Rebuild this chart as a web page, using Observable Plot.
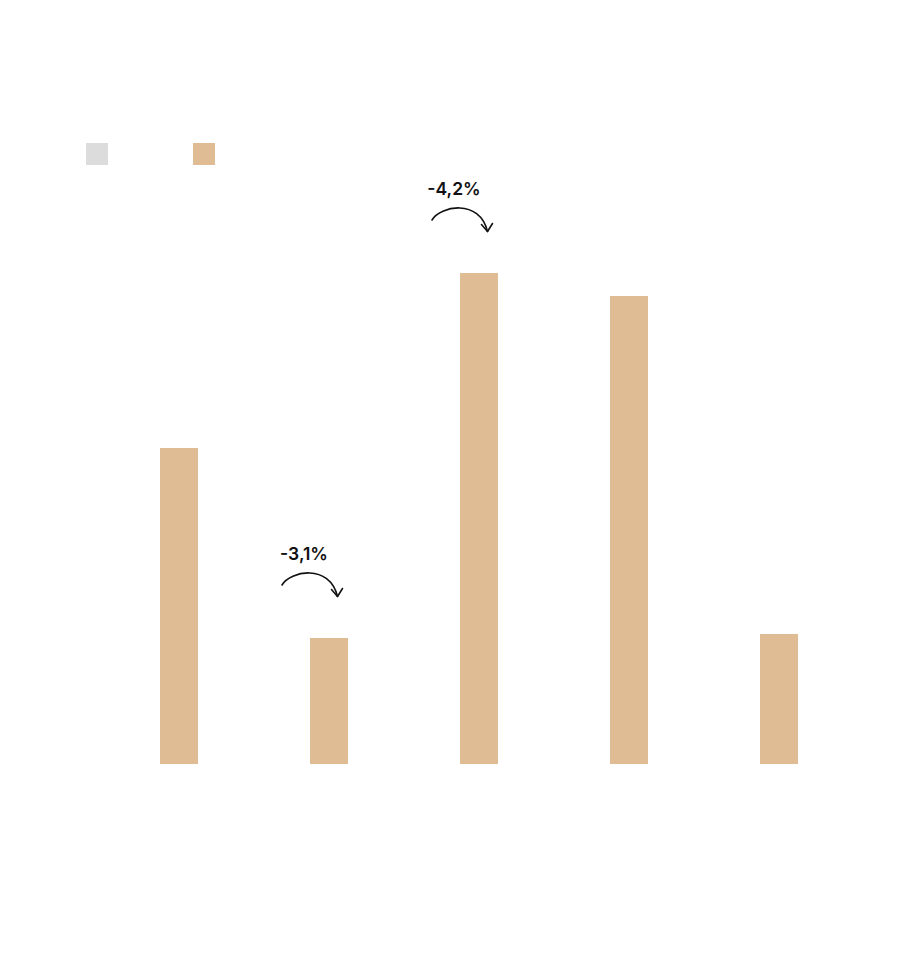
<!DOCTYPE html>
<html>
<head>
<meta charset="utf-8">
<script src="https://cdn.jsdelivr.net/npm/d3@7"></script>
<script src="https://cdn.jsdelivr.net/npm/@observablehq/plot@0.6"></script>
<style>
  html, body { margin: 0; padding: 0; background: #fff; }
  body { position: relative; width: 900px; height: 957px; overflow: hidden; font-family: Inter, "Noto Sans", sans-serif; }
  #legend { position: absolute; left: 0; top: 0; width: 900px; height: 0; z-index: 2; }
  .sw { position: absolute; top: 143px; width: 22px; height: 22px; }
  #chart svg { display: block; }
</style>
</head>
<body>
<div id="legend"></div>
<div id="chart"></div>
<script>
// Data
const categories = ["1", "2", "3", "4", "5"];
const values = [6.32, 2.52, 9.82, 9.36, 2.60];
const seriesNames = ["prev", "curr"];
const seriesColors = ["#dcdcdc", "#e0bc95"];
const annotCategories = ["2", "3"];
const annotLabels = ["-3,1%", "-4,2%"];

const data = categories.map((c, i) => ({cat: c, value: values[i]}));
const annots = annotCategories.map((c, i) => ({cat: c, label: annotLabels[i], value: values[categories.indexOf(c)]}));

// Legend swatches
const legend = document.getElementById("legend");
const swLeft = [86, 193];
seriesColors.forEach((col, i) => {
  const d = document.createElement("div");
  d.className = "sw";
  d.style.left = swLeft[i] + "px";
  d.style.background = col;
  legend.appendChild(d);
});

const chart = Plot.plot({
  width: 900,
  height: 957,
  marginLeft: 103.5,
  marginRight: 46,
  marginTop: 264,
  marginBottom: 193,
  x: {domain: categories, paddingInner: 0.7435, paddingOuter: 0.37175, axis: null},
  y: {domain: [0, 10], axis: null},
  marks: [
    Plot.barY(data, {x: "cat", y: "value", fill: seriesColors[1]}),
    Plot.text(annots, {x: "cat", y: "value", text: "label", dx: -25.5, dy: -84, fontSize: 17.5, fontWeight: 600, fill: "#111", textAnchor: "middle", fontFamily: "Inter, sans-serif"})
  ]
});
document.getElementById("chart").appendChild(chart);

// Curved arrows positioned through the plot's scales
const xs = chart.scale("x"), ys = chart.scale("y");
const svg = d3.select(chart);
const g = svg.append("g").attr("fill", "none").attr("stroke", "#111").attr("stroke-width", 1.6).attr("stroke-linecap", "round").attr("stroke-linejoin", "round");
annots.forEach(a => {
  const cx = xs.apply(a.cat) + xs.bandwidth / 2;
  const cy = ys.apply(a.value);
  const sx = cx - 47, sy = cy - 53;
  const ex = cx + 8.5, ey = cy - 41.5;
  g.append("path").attr("d", `M${sx},${sy} C${sx + 8},${sy - 14} ${ex - 8},${sy - 22} ${ex},${ey}`);
  g.append("path").attr("d", `M${ex - 6},${ey - 7} L${ex},${ey} L${ex + 5},${ey - 8}`);
});
</script>
</body>
</html>
